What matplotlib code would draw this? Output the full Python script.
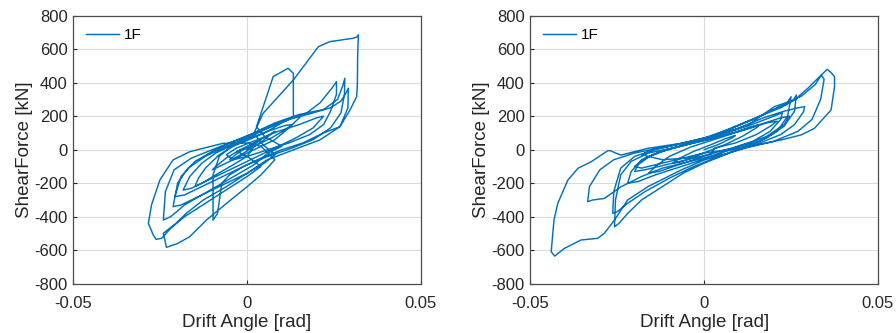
import matplotlib.pyplot as plt
import numpy as np

plt.rcParams["font.family"] = ["Liberation Sans", "DejaVu Sans"]

LINE_COLOR = "#0072BD"

x_ticks = [-0.05, 0, 0.05]
x_tick_labels = ["-0.05", "0", "0.05"]
y_ticks = [-800, -600, -400, -200, 0, 200, 400, 600, 800]
y_tick_labels = ["-800", "-600", "-400", "-200", "0", "200", "400", "600", "800"]

# (drift angle [rad], shear force [kN]), one loop per row
left_points = [
    (0.000, 0), (0.002, 30), (0.004, 60), (0.003, 50), (0.000, 15), (-0.003, -25), (-0.005, -60),
    (-0.004, -55), (-0.001, -20), (0.001, 5),
    (0.004, 45), (0.007, 95), (0.008, 110), (0.006, 85), (0.002, 40), (-0.002, 0), (-0.006, -50),
    (-0.009, -100), (-0.010, -120), (-0.008, -100), (-0.004, -60), (0.000, -20), (0.003, 10),
    (0.008, 60), (0.012, 130), (0.015, 190), (0.016, 210), (0.014, 200), (0.010, 160), (0.005, 100),
    (0.000, 55), (-0.004, 20), (-0.008, -30), (-0.012, -110), (-0.014, -170), (-0.015, -220),
    (-0.013, -200), (-0.009, -150), (-0.004, -90), (0.000, -40),
    (0.002, 20), (0.007, 70), (0.011, 120), (0.013, 150), (0.011, 145), (0.006, 110), (0.001, 70),
    (-0.004, 30), (-0.009, -20), (-0.013, -80), (-0.0165, -160), (-0.0184, -241), (-0.016, -230),
    (-0.011, -180), (-0.006, -130), (-0.001, -80), (0.004, -30),
    (0.009, 20), (0.014, 70), (0.019, 130), (0.022, 200), (0.020, 190), (0.015, 150), (0.009, 110),
    (0.003, 60), (-0.003, 10), (-0.006, -30), (-0.004, -60), (0.000, -40),
    (0.006, 0), (0.012, 40), (0.018, 90), (0.022, 150), (0.024, 230), (0.0257, 330), (0.0257, 406),
    (0.0245, 370), (0.021, 280), (0.017, 217), (0.010, 170), (0.004, 120), (0.000, 80), (-0.005, 40),
    (-0.010, -10), (-0.015, -70), (-0.019, -160), (-0.0208, -280), (-0.018, -270), (-0.014, -230),
    (-0.009, -180), (-0.004, -130), (0.000, -90),
    (0.006, -40), (0.013, 10), (0.019, 60), (0.024, 130), (0.027, 220), (0.028, 330), (0.0281, 426),
    (0.0275, 380), (0.026, 300), (0.022, 240), (0.015, 210), (0.008, 160), (0.002, 100), (-0.004, 50),
    (-0.010, 0), (-0.016, -50), (-0.021, -120), (-0.0235, -250), (-0.0241, -420), (-0.022, -400),
    (-0.018, -330), (-0.013, -270), (-0.008, -210), (-0.003, -150), (0.002, -90),
    (0.006, -20), (0.010, 20), (0.005, 80), (0.0027, 137), (0.0075, 436), (0.0118, 486), (0.0133, 456),
    (0.0133, 197), (0.008, 150), (0.002, 90), (-0.004, 30), (-0.008, -40), (-0.0098, -150),
    (-0.0098, -420), (-0.0085, -380), (-0.0073, -200), (-0.005, -150), (-0.001, -100), (0.004, -50),
    (0.010, 0), (0.016, 40), (0.022, 100), (0.0267, 137), (0.029, 250), (0.0291, 367), (0.0285, 340),
    (0.027, 290), (0.024, 250), (0.019, 220), (0.012, 180), (0.005, 120), (0.000, 70), (-0.006, 20),
    (-0.012, -40), (-0.017, -110), (-0.020, -200), (-0.0213, -340), (-0.019, -330), (-0.015, -290),
    (-0.010, -240), (-0.005, -190), (0.000, -141),
    (0.005, -80), (0.008, -30), (0.004, 40), (0.002, 100), (0.0046, 217), (0.0133, 416), (0.0205, 615),
    (0.0238, 645), (0.0305, 665), (0.0315, 672), (0.0320, 685), (0.0318, 560), (0.0317, 376),
    (0.0315, 316), (0.0296, 237), (0.0267, 137), (0.0209, 58), (0.0132, -2), (0.0056, -62),
    (0.000, -141), (-0.006, -221), (-0.0126, -300), (-0.0175, -380), (-0.0205, -440), (-0.0241, -499),
    (-0.0232, -583), (-0.020, -560), (-0.0165, -519), (-0.0117, -420), (-0.0059, -320), (0.000, -221),
    (0.004, -150), (0.008, -60), (0.004, 20), (0.000, 40), (-0.0069, 38), (-0.0165, -12),
    (-0.0213, -61), (-0.0251, -181), (-0.0275, -330), (-0.0284, -440), (-0.027, -509),
    (-0.0262, -535), (-0.0246, -529), (-0.022, -470), (-0.018, -400), (-0.012, -320), (-0.006, -240),
    (0.000, -160), (0.004, -100), (0.000, -40), (-0.003, -10), (0.002, 20),
]

right_points = [
    (0.000, 0), (0.004, 30), (0.008, 70), (0.009, 85), (0.006, 65), (0.002, 30), (-0.003, -10),
    (-0.007, -50), (-0.009, -80), (-0.007, -75), (-0.003, -45), (0.001, -10),
    (0.006, 30), (0.011, 80), (0.015, 130), (0.016, 150), (0.013, 135), (0.008, 95), (0.002, 55),
    (-0.004, 15), (-0.010, -40), (-0.014, -100), (-0.016, -140), (-0.013, -130), (-0.008, -95),
    (-0.003, -60), (0.002, -25),
    (0.003, 10), (0.009, 40), (0.015, 90), (0.019, 140), (0.021, 170), (0.018, 160), (0.012, 120),
    (0.005, 80), (-0.002, 45), (-0.009, 10), (-0.015, -30), (-0.019, -90), (-0.020, -130),
    (-0.017, -120), (-0.011, -90), (-0.005, -60), (0.001, -30),
    (0.008, 10), (0.014, 50), (0.019, 110), (0.022, 180), (0.0225, 220), (0.020, 200), (0.015, 160),
    (0.008, 110), (0.002, 70), (-0.005, 30), (-0.012, -10), (-0.018, -60), (-0.021, -130),
    (-0.022, -200), (-0.019, -190), (-0.014, -150), (-0.008, -110), (-0.002, -70), (0.004, -30),
    (0.007, 0), (0.013, 40), (0.018, 80), (0.023, 150), (0.0245, 200), (0.022, 190), (0.016, 150),
    (0.010, 110), (0.003, 70), (-0.004, 35), (-0.011, 0), (-0.017, -50), (-0.020, -100),
    (-0.018, -110), (-0.012, -80), (-0.006, -50), (0.000, -20),
    (0.010, 10), (0.016, 50), (0.021, 110), (0.024, 200), (0.025, 316), (0.0235, 270), (0.020, 240),
    (0.014, 180), (0.006, 110), (0.000, 60), (-0.008, 15), (-0.016, -20), (-0.021, -70),
    (-0.024, -150), (-0.0255, -300), (-0.0258, -460), (-0.0245, -440), (-0.022, -380), (-0.018, -300),
    (-0.012, -220), (-0.006, -140), (0.000, -80), (0.006, -30),
    (0.012, 20), (0.018, 70), (0.023, 140), (0.026, 230), (0.0265, 326), (0.0255, 290), (0.022, 250),
    (0.016, 200), (0.009, 140), (0.002, 80), (-0.006, 40), (-0.014, 0), (-0.020, -40), (-0.024, -110),
    (-0.026, -250), (-0.0263, -380), (-0.025, -370), (-0.022, -320), (-0.017, -250), (-0.010, -170),
    (-0.004, -110), (0.003, -50),
    (0.010, 0), (0.016, 40), (0.022, 90), (0.026, 150), (0.0286, 227), (0.0289, 257), (0.027, 250),
    (0.023, 230), (0.017, 190), (0.010, 130), (0.003, 80), (-0.005, 40), (-0.013, 10), (-0.020, -20),
    (-0.026, -60), (-0.030, -120), (-0.033, -220), (-0.0335, -310), (-0.032, -300), (-0.0287, -291),
    (-0.0239, -221), (-0.018, -160), (-0.012, -110), (-0.006, -80), (0.000, -50),
    (0.006, -10), (0.0126, 18), (0.0221, 58), (0.0279, 88), (0.0317, 127), (0.0365, 237),
    (0.0375, 376), (0.0375, 436), (0.0365, 460), (0.0354, 480), (0.0337, 446), (0.0298, 366),
    (0.026, 297), (0.0202, 257), (0.0126, 147), (0.003, 78), (-0.0066, 38), (-0.0162, 8),
    (-0.0239, -32), (-0.0248, -26), (-0.027, -6), (-0.0277, -6), (-0.0325, -72), (-0.0363, -111),
    (-0.0392, -181), (-0.0421, -320), (-0.0432, -420), (-0.0440, -609), (-0.0430, -635),
    (-0.0402, -589), (-0.0354, -539), (-0.0306, -529), (-0.0287, -499), (-0.0258, -420),
    (-0.022, -300), (-0.0162, -221), (-0.0066, -121), (0.000, -62), (0.003, -42),
    (0.012, 10), (0.020, 50), (0.027, 110), (0.031, 180), (0.0335, 300), (0.0345, 420), (0.0337, 446),
    (0.032, 390), (0.028, 320), (0.022, 260), (0.015, 190), (0.007, 120), (0.000, 70), (-0.008, 30),
    (-0.015, 0), (-0.018, -30), (-0.012, -60), (-0.005, -50), (0.000, -20),
]

panels = [left_points, right_points]


def style_axes(ax):
    ax.set_xlim(-0.05, 0.05)
    ax.set_ylim(-800, 800)
    ax.set_xticks(x_ticks, labels=x_tick_labels)
    ax.set_yticks(y_ticks, labels=y_tick_labels)
    ax.tick_params(direction="in", length=3, width=0.8, colors="#262626", labelsize=12)
    ax.tick_params(axis="x", pad=8.5)
    ax.tick_params(axis="y", pad=4)
    ax.grid(True, color="#dcdcdc", linewidth=0.8)
    ax.set_axisbelow(True)
    for spine in ax.spines.values():
        spine.set_color("#4d4d4d")
        spine.set_linewidth(0.9)
    ax.set_xlabel("Drift Angle [rad]", fontsize=13.5, color="#262626", labelpad=2.5)
    ax.set_ylabel("ShearForce [kN]", fontsize=13.5, color="#262626", labelpad=1)


fig = plt.figure(figsize=(8.96, 3.33), dpi=100)
lefts = [0.0818, 0.5919]
for left, points in zip(lefts, panels):
    ax = fig.add_axes([left, 0.148, 0.388, 0.805])
    data = np.array(points)
    ax.plot(data[:, 0], data[:, 1], color=LINE_COLOR, linewidth=1.05, label="1F")
    style_axes(ax)
    ax.legend(loc="upper left", frameon=False, fontsize=11, handlelength=2.2,
              handletextpad=0.3, borderaxespad=0.4)

fig.savefig("out.png", dpi=100)
